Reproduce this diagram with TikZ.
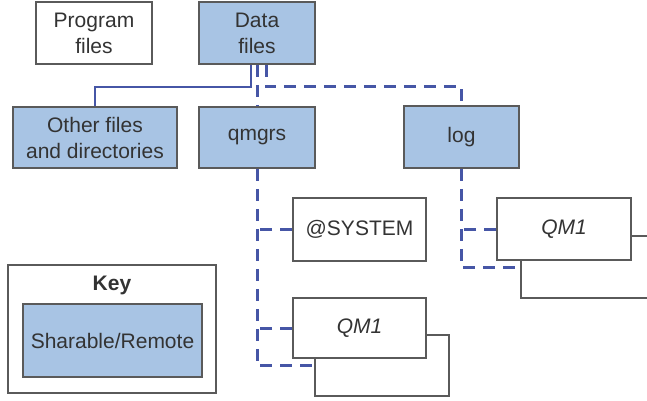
\documentclass[tikz,border=0pt]{standalone}
\usepackage{fontspec}
\setmainfont{Liberation Sans}
\definecolor{sharefill}{HTML}{A8C4E4}
\definecolor{boxline}{HTML}{5A5A5A}
\definecolor{linkblue}{HTML}{4656A6}
\definecolor{txt}{HTML}{333333}
\begin{document}
\begin{tikzpicture}[x=1pt,y=-1pt,
  box/.style={draw=boxline,line width=1.8pt,fill=white,inner sep=0pt,align=center,
    text=txt,font=\fontsize{21}{26}\selectfont},
  share/.style={box,fill=sharefill},
  solidlink/.style={draw=linkblue,line width=2.8pt},
  dashlink/.style={draw=linkblue,line width=3pt,dash pattern=on 12pt off 8pt}]
\useasboundingbox (0,0) rectangle (647,401);
% top row
\node[box,minimum width=116pt,minimum height=62pt] (prog) at (94,33) {Program\\files};
\node[share,minimum width=116pt,minimum height=62pt] (data) at (257,33) {Data\\files};
% second row
\node[share,minimum width=164pt,minimum height=61pt] (other) at (95,137.5) {Other files\\and directories};
\node[share,minimum width=116pt,minimum height=61pt] (qmgrs) at (257,137.5) {qmgrs};
\node[share,minimum width=115pt,minimum height=62pt] (log) at (461.5,137) {log};
% qmgrs children
\node[box,minimum width=133pt,minimum height=63pt] (sys) at (359.5,229.5) {@SYSTEM};
\node[box,minimum width=134pt,minimum height=61pt] (qb) at (382,365.5) {};
\node[box,minimum width=133pt,minimum height=60pt] (qf) at (359.5,328) {\itshape QM1};
% log children
\node[box,minimum width=134pt,minimum height=62pt] (lb) at (588,267) {};
\node[box,minimum width=134pt,minimum height=62pt] (lf) at (564,229) {\itshape QM1};
% key
\node[box,minimum width=208pt,minimum height=128pt] (key) at (112,329) {};
\node[text=txt,font=\fontsize{21}{26}\selectfont\bfseries,inner sep=0pt] (keyt) at (112,285) {Key};
\node[share,minimum width=179pt,minimum height=73pt] (sh) at (112.5,340.5) {Sharable/Remote};
% connectors
\coordinate (j1) at (251,87);
\coordinate (j2) at (266,87);
\draw[solidlink] (data.south -| j1) -- (j1) -| (other.north);
\draw[dashlink] (data.south) -- (qmgrs.north);
\draw[dashlink] (data.south -| j2) -- (j2) -| (log.north);
\draw[dashlink] (qmgrs.south) |- (qb.west);
\draw[dashlink] (sys.west) -- (sys.west -| qmgrs.south);
\draw[dashlink] (qf.west) -- (qf.west -| qmgrs.south);
\draw[dashlink] (log.south) |- (lb.west);
\draw[dashlink] (lf.west) -- (lf.west -| log.south);
\end{tikzpicture}
\end{document}
